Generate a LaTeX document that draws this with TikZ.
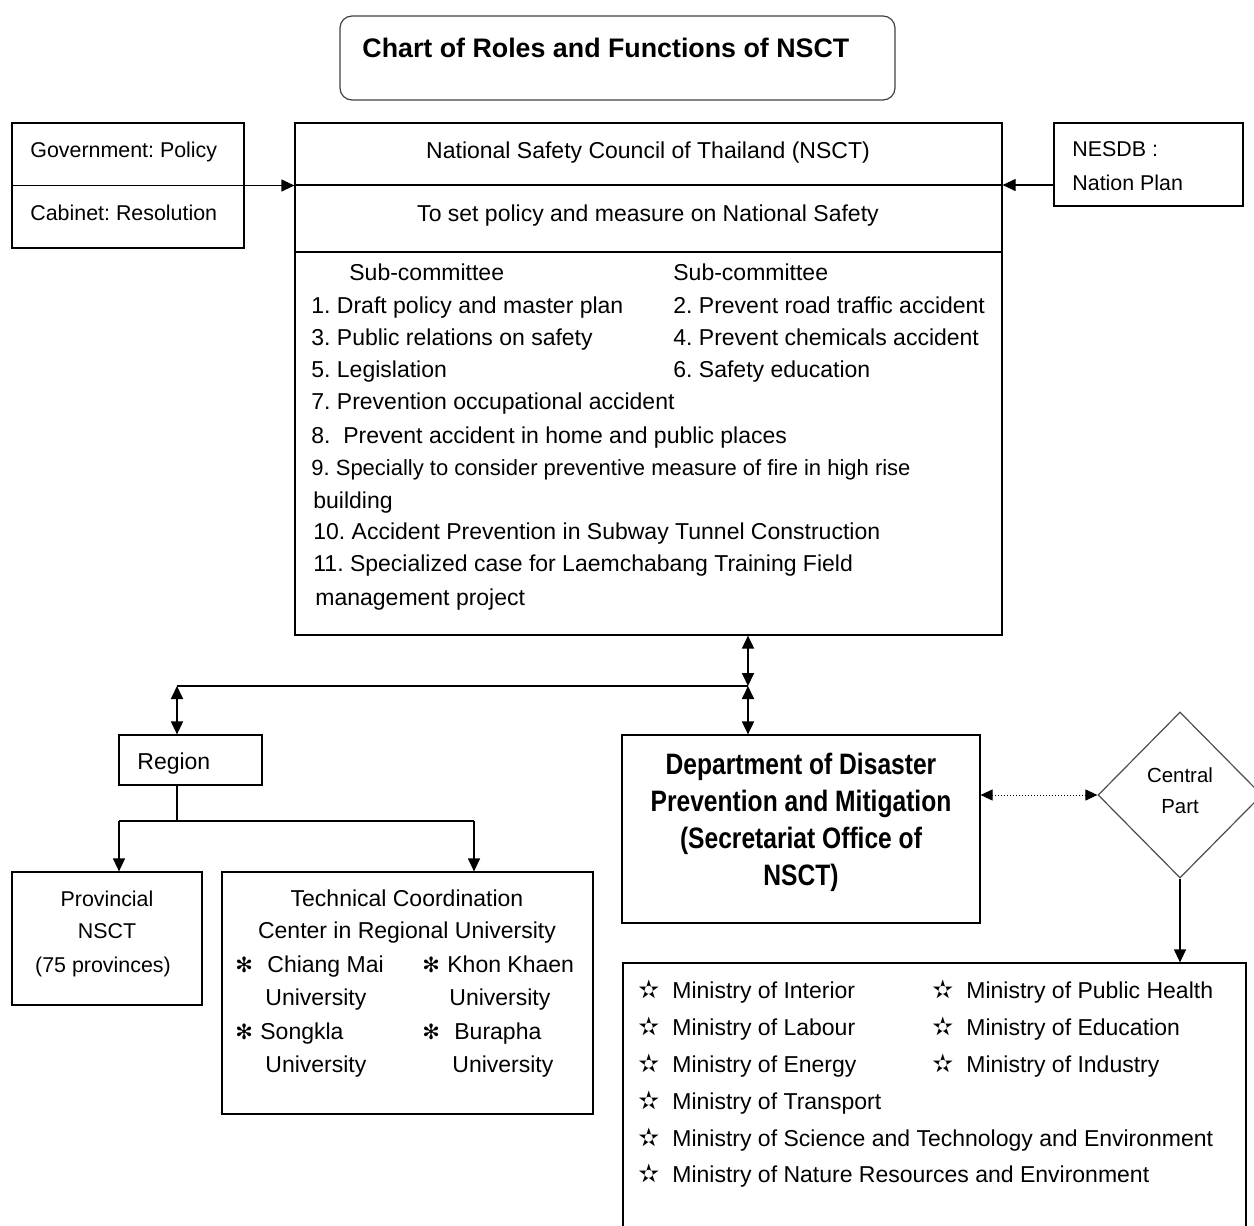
\documentclass[tikz,border=0pt]{standalone}
\usepackage{fontspec}
\setmainfont{Liberation Sans}
\newfontfamily\symf{DejaVu Sans}
\usetikzlibrary{shapes.geometric,arrows.meta}
\frenchspacing
\begin{document}
\begin{tikzpicture}[x=0.5pt,y=-0.5pt,
  box/.style={draw=black,line width=0.6pt,inner sep=0pt},
  txt/.style={inner sep=0pt,font=\fontsize{11.5}{13}\selectfont},
  stxt/.style={inner sep=0pt,font=\fontsize{10.7}{13}\selectfont},
  ttl/.style={inner sep=0pt,font=\fontsize{13.4}{15}\selectfont\bfseries},
  big/.style={inner sep=0pt,font=\fontsize{12.3}{15}\selectfont\bfseries},
  star/.style={inner sep=0pt,font=\fontsize{12.5}{12}\selectfont\symf},
  ast/.style={inner sep=0pt,font=\fontsize{10.5}{10}\selectfont\symf},
  arr/.style={line width=0.6pt,-{Triangle[length=6.5pt,width=6pt]}},
  darr/.style={line width=0.9pt,{Triangle[length=6.5pt,width=6pt]}-{Triangle[length=6.5pt,width=6pt]}},
  dotarr/.style={line width=0.5pt,densely dotted,{Triangle[length=6pt,width=5.5pt]}-{Triangle[length=6pt,width=5.5pt]}}]
\useasboundingbox (0,0) rectangle (1254,1226);
\clip (0,0) rectangle (1254,1226);

% title
\node[box,draw=black!75,rounded corners=6pt,minimum width=277.5pt,minimum height=42pt] (title) at (617.5,58) {};
\node[ttl,anchor=base west] (titlet) at (362,57) {Chart of Roles and Functions of NSCT};

% government box
\node[box,minimum width=116pt,minimum height=62.5pt] (gov) at (128,185.5) {};
\draw[line width=0.6pt] (gov.west) -- (gov.east);
\node[stxt,anchor=base west] (govt) at (30,157) {Government: Policy};
\node[stxt,anchor=base west] (cabt) at (30,220) {Cabinet: Resolution};

% NSCT main box
\node[box,minimum width=353.5pt,minimum height=256pt] (nsct) at (648.5,379) {};
\coordinate (d1) at (648.5,185);
\coordinate (d2) at (648.5,252);
\draw[line width=0.6pt] (d1 -| nsct.west) -- (d1 -| nsct.east);
\draw[line width=0.6pt] (d2 -| nsct.west) -- (d2 -| nsct.east);
\node[txt,anchor=base] (n1) at (648,158) {National Safety Council of Thailand (NSCT)};
\node[txt,anchor=base] (n2) at (648,221) {To set policy and measure on National Safety};
\node[txt,anchor=base west] (s0a) at (349,280) {Sub-committee};
\node[txt,anchor=base west] (s0b) at (673,280) {Sub-committee};
\node[txt,anchor=base west] (s1) at (311,313) {1. Draft policy and master plan};
\node[txt,anchor=base west] (s2) at (673,313) {2. Prevent road traffic accident};
\node[txt,anchor=base west] (s3) at (311,345) {3. Public relations on safety};
\node[txt,anchor=base west] (s4) at (673,345) {4. Prevent chemicals accident};
\node[txt,anchor=base west] (s5) at (311,377) {5. Legislation};
\node[txt,anchor=base west] (s6) at (673,377) {6. Safety education};
\node[txt,anchor=base west] (s7) at (311,409) {7. Prevention occupational accident};
\node[txt,anchor=base west] (s8) at (311,443) {8.\ \ Prevent accident in home and public places};
\node[inner sep=0pt,font=\fontsize{11}{13}\selectfont,anchor=base west] (s9) at (311,475) {9. Specially to consider preventive measure of fire in high rise};
\node[txt,anchor=base west] (s9b) at (313,508) {building};
\node[txt,anchor=base west] (s10) at (313,539) {10. Accident Prevention in Subway Tunnel Construction};
\node[txt,anchor=base west] (s11) at (313,571) {11. Specialized case for Laemchabang Training Field};
\node[txt,anchor=base west] (s11b) at (315,605) {management project};

% NESDB
\node[box,minimum width=94.5pt,minimum height=41.5pt] (nesdb) at (1148.5,164.5) {};
\node[stxt,anchor=base west] (ne1) at (1072,156) {NESDB :};
\node[stxt,anchor=base west] (ne2) at (1072,190) {Nation Plan};

\draw[arr] (gov.east) -- (gov.east -| nsct.west);
\draw[arr] (d1 -| nesdb.west) -- (d1 -| nsct.east);

% region
\node[box,minimum width=71.5pt,minimum height=25pt] (region) at (190.5,760) {};
\node[txt,anchor=base west] (regt) at (137,769) {Region};

% provincial
\node[box,minimum width=95pt,minimum height=66.5pt] (prov) at (107,938.5) {};
\node[stxt,anchor=base] (p1) at (107,906) {Provincial};
\node[stxt,anchor=base] (p2) at (107,938) {NSCT};
\node[stxt,anchor=base] (p3) at (103,972) {(75 provinces)};

% technical coordination
\node[box,minimum width=185.5pt,minimum height=121pt] (tcc) at (407.5,993) {};
\node[txt,anchor=base] (c1) at (407,906) {Technical Coordination};
\node[txt,anchor=base] (c2) at (407,938) {Center in Regional University};
\node[ast,anchor=base west] (a1) at (235,972) {✻};
\node[txt,anchor=base west] (u1) at (267,972) {Chiang Mai};
\node[ast,anchor=base west] (a2) at (422,972) {✻};
\node[txt,anchor=base west] (u2) at (447,972) {Khon Khaen};
\node[txt,anchor=base west] (u1b) at (265,1005) {University};
\node[txt,anchor=base west] (u2b) at (449,1005) {University};
\node[ast,anchor=base west] (a3) at (235,1039) {✻};
\node[txt,anchor=base west] (u3) at (260,1039) {Songkla};
\node[ast,anchor=base west] (a4) at (422,1039) {✻};
\node[txt,anchor=base west] (u4) at (454,1039) {Burapha};
\node[txt,anchor=base west] (u3b) at (265,1072) {University};
\node[txt,anchor=base west] (u4b) at (452,1072) {University};

% DDPM
\node[box,minimum width=179pt,minimum height=94pt] (ddpm) at (801,829) {};
\node[big,anchor=base] (dd1) at (801,774) {\scalebox{1}[1.2]{Department of Disaster}};
\node[big,anchor=base] (dd2) at (801,811) {\scalebox{1}[1.2]{Prevention and Mitigation}};
\node[big,anchor=base] (dd3) at (801,848) {\scalebox{1}[1.2]{(Secretariat Office of}};
\node[big,anchor=base] (dd4) at (801,885) {\scalebox{1}[1.2]{NSCT)}};

% diamond
\node[draw=black!70,line width=0.6pt,diamond,inner sep=0pt,minimum width=82pt,minimum height=83pt] (cp) at (1180,795) {};
\node[inner sep=0pt,font=\fontsize{10.2}{12}\selectfont,anchor=base] (cp1) at (1180,782) {Central};
\node[inner sep=0pt,font=\fontsize{10.2}{12}\selectfont,anchor=base] (cp2) at (1180,813) {Part};

% ministries
\node[box,minimum width=311.5pt,minimum height=168.5pt] (mins) at (934.5,1131.5) {};
\foreach \yy/\tx/\nm in {998/Ministry of Interior/m1,1035/Ministry of Labour/m2,1072/Ministry of Energy/m3,1109/Ministry of Transport/m4,1146/Ministry of Science and Technology and Environment/m5,1182/Ministry of Nature Resources and Environment/m6}{
  \node[star,anchor=base west] (\nm s) at (638,\yy) {✫};
  \node[txt,anchor=base west] (\nm) at (672,\yy) {\tx};
}
\foreach \yy/\tx/\nm in {998/Ministry of Public Health/r1,1035/Ministry of Education/r2,1072/Ministry of Industry/r3}{
  \node[star,anchor=base west] (\nm s) at (932,\yy) {✫};
  \node[txt,anchor=base west] (\nm) at (966,\yy) {\tx};
}

% connectors
\coordinate (j) at (748,686);
\coordinate (jl) at (177,686);
\coordinate (rb) at (177,821);
\coordinate (rl) at (119,821);
\coordinate (rr) at (474,821);
\draw[darr] (j |- nsct.south) -- (j);
\draw[line width=0.6pt] (jl) -- (j);
\draw[darr] (j) -- (j |- ddpm.north);
\draw[darr] (jl) -- (jl |- region.north);
\draw[line width=0.6pt] (jl |- region.south) -- (rb);
\draw[line width=0.6pt] (rl) -- (rr);
\draw[arr] (rl) -- (rl |- prov.north);
\draw[arr] (rr) -- (rr |- tcc.north);
\draw[dotarr] (cp.west -| ddpm.east) -- (cp.west);
\draw[arr] (cp.south) -- (cp.south |- mins.north);
\end{tikzpicture}
\end{document}
